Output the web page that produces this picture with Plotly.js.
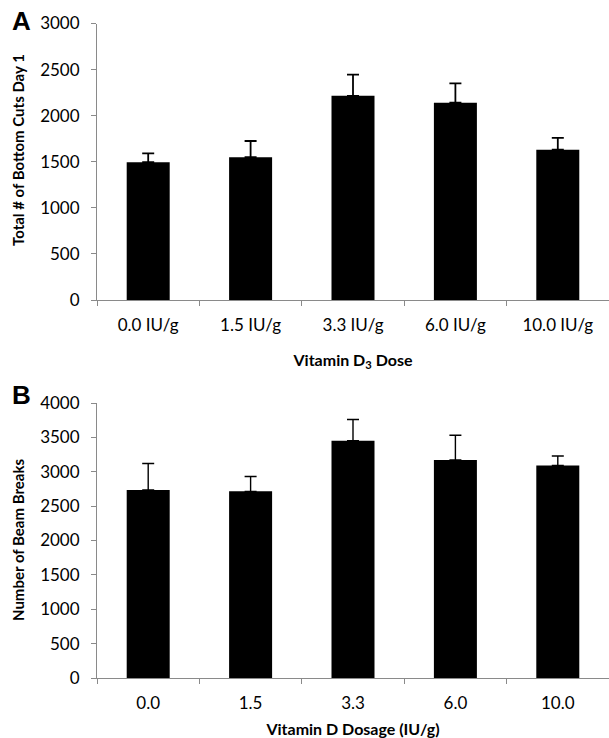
<!DOCTYPE html>
<html>
<head>
<meta charset="utf-8">
<script src="https://cdn.plot.ly/plotly-3.0.1.min.js"></script>
<style>
  html, body { margin: 0; padding: 0; background: #fff; }
  #chart { width: 609px; height: 738px; }
</style>
</head>
<body>
<div id="chart"></div>
<script>
// Panel A: Vitamin D3 dose vs total bottom cuts day 1
const categoriesA = ["0.0 IU/g", "1.5 IU/g", "3.3 IU/g", "6.0 IU/g", "10.0 IU/g"];
const valuesA = [1495, 1550, 2215, 2140, 1630];
const errorsA = [95, 175, 230, 210, 130];

// Panel B: Vitamin D dosage vs number of beam breaks
const categoriesB = ["0.0", "1.5", "3.3", "6.0", "10.0"];
const valuesB = [2735, 2715, 3450, 3170, 3090];
const errorsB = [385, 215, 310, 360, 140];

const titleA_x = "Vitamin D<sub>3</sub> Dose";
const titleA_y = "Total # of Bottom Cuts Day 1";
const titleB_x = "Vitamin D Dosage (IU/g)";
const titleB_y = "Number of Beam Breaks";

const FONT = "Lato, 'Open Sans', sans-serif";
const AXIS_GRAY = "#8a8a8a";
const H = 738, W = 609, L = 97;

function zeros(n) { return new Array(n).fill(0); }

const traces = [
  {
    type: "bar", x: categoriesA, y: valuesA, xaxis: "x", yaxis: "y",
    marker: { color: "#000000", line: { width: 0 } },
    error_y: { type: "data", array: errorsA, arrayminus: zeros(errorsA.length), symmetric: false,
               color: "#000000", thickness: 1.8, width: 6 },
    hoverinfo: "none", showlegend: false
  },
  {
    type: "bar", x: categoriesB, y: valuesB, xaxis: "x2", yaxis: "y2",
    marker: { color: "#000000", line: { width: 0 } },
    error_y: { type: "data", array: errorsB, arrayminus: zeros(errorsB.length), symmetric: false,
               color: "#000000", thickness: 1.4, width: 6 },
    hoverinfo: "none", showlegend: false
  }
];

function xAxis(anchor, title, standoff) {
  return {
    anchor: anchor, domain: [0, 1], type: "category", range: [-0.5, 4.5],
    showline: true, linecolor: AXIS_GRAY, linewidth: 1,
    ticks: "outside", tickson: "boundaries", ticklen: 5, tickcolor: AXIS_GRAY, tickwidth: 1,
    ticklabelstandoff: 10,
    showgrid: false, zeroline: false,
    tickfont: { family: FONT, size: 17, color: "#000" },
    title: { text: title, font: { family: FONT, size: 16, color: "#000", weight: "bold" }, standoff: standoff }
  };
}
function yAxis(anchor, domain, rmax) {
  return {
    anchor: anchor, domain: domain, range: [0, rmax], dtick: 500, tick0: 0,
    showline: true, linecolor: AXIS_GRAY, linewidth: 1,
    ticks: "outside", ticklen: 5, tickcolor: AXIS_GRAY, tickwidth: 1,
    ticklabelstandoff: 8,
    showgrid: false, zeroline: false,
    tickfont: { family: FONT, size: 17, color: "#000" }
  };
}

function px2x(px) { return (px - L) / (W - L); }
function py2y(py) { return 1 - py / H; }

const layout = {
  width: W, height: H,
  margin: { l: L, r: 0, t: 0, b: 0 },
  paper_bgcolor: "#ffffff", plot_bgcolor: "#ffffff",
  bargap: 0.58,
  xaxis: xAxis("y", titleA_x, 20),
  yaxis: yAxis("x", [py2y(300), py2y(23.5)], 3000),
  xaxis2: xAxis("y2", titleB_x, 12),
  yaxis2: yAxis("x2", [py2y(678), py2y(403)], 4000),
  annotations: [
    { text: "<b>A</b>", xref: "paper", yref: "paper", x: px2x(10), y: py2y(4),
      xanchor: "left", yanchor: "top", showarrow: false,
      font: { family: "Liberation Sans, Arial, sans-serif", size: 26, color: "#000" } },
    { text: "<b>B</b>", xref: "paper", yref: "paper", x: px2x(10), y: py2y(378),
      xanchor: "left", yanchor: "top", showarrow: false,
      font: { family: "Liberation Sans, Arial, sans-serif", size: 26, color: "#000" } },
    { text: "<b>" + titleA_y + "</b>", xref: "paper", yref: "paper", x: px2x(18), y: py2y(150),
      xanchor: "center", yanchor: "middle", textangle: -90, showarrow: false,
      font: { family: FONT, size: 15, color: "#000" } },
    { text: "<b>" + titleB_y + "</b>", xref: "paper", yref: "paper", x: px2x(18), y: py2y(540),
      xanchor: "center", yanchor: "middle", textangle: -90, showarrow: false,
      font: { family: FONT, size: 15, color: "#000" } }
  ]
};

Plotly.newPlot("chart", traces, layout, { staticPlot: true, displayModeBar: false });
</script>
</body>
</html>
